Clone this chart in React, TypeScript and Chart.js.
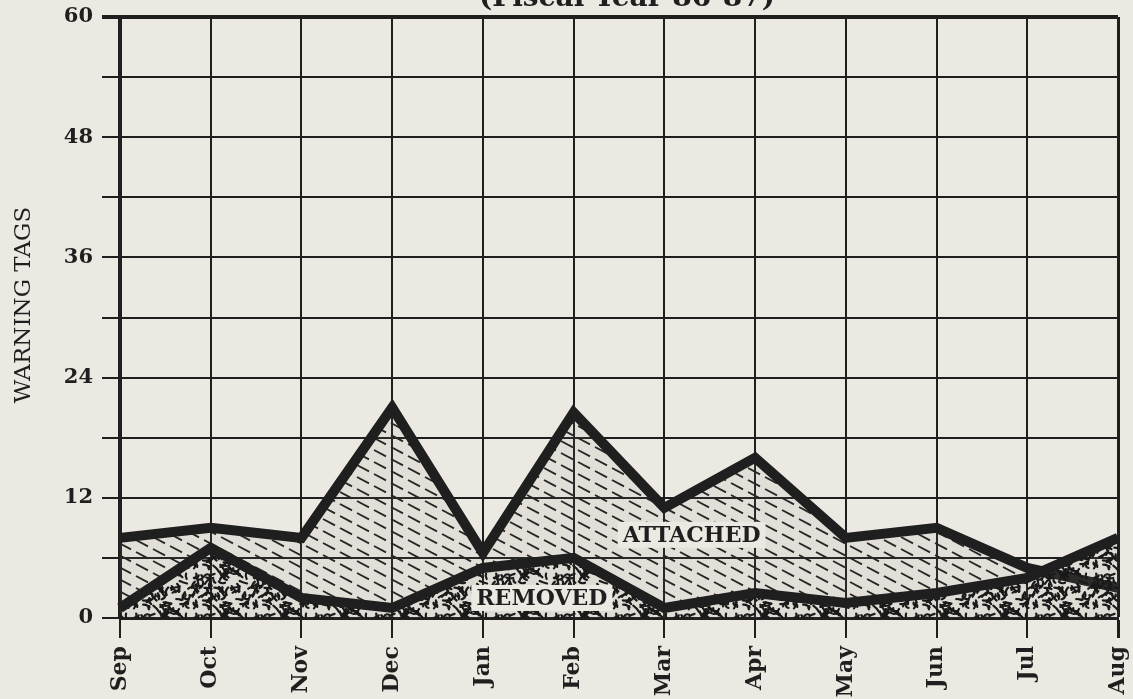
import { useEffect, useRef } from "react";
import { Chart, registerables } from "chart.js";
Chart.register(...registerables);

const months = ["Sep", "Oct", "Nov", "Dec", "Jan", "Feb", "Mar", "Apr", "May", "Jun", "Jul", "Aug"];
const attached = [8, 9, 8, 21, 6.5, 20.5, 11, 16, 8, 9, 5, 3];
const removed = [1, 7, 2, 1, 5, 6, 1, 2.5, 1.5, 2.5, 4, 8];
const labeledTicks = [0, 12, 24, 36, 48, 60];
const chartTitle = "(Fiscal Year 86-87)";
const yTitle = "WARNING TAGS";
const attachedLabel = "ATTACHED";
const removedLabel = "REMOVED";

const PAPER = "#ebe9e2";
const INK = "#1f1f1f";
const FONT = "'DejaVu Serif', 'Liberation Serif', serif";

function makeHatch(): HTMLCanvasElement {
  const W = 68, H = 12;
  const c = document.createElement("canvas");
  c.width = W; c.height = H;
  const g = c.getContext("2d")!;
  g.fillStyle = "rgba(140,135,125,0.10)";
  g.fillRect(0, 0, W, H);
  g.strokeStyle = "#262626";
  g.lineWidth = 1.8;
  for (let m = -2; m <= 5; m++) {
    for (let n = -5; n <= 5; n++) {
      const x = m * 17, y = m * 9 + n * 12;
      g.beginPath();
      g.moveTo(x, y);
      g.lineTo(x + 12, y + 6.4);
      g.stroke();
    }
  }
  return c;
}

function makeStipple(): HTMLCanvasElement {
  const W = 60, H = 40;
  const c = document.createElement("canvas");
  c.width = W; c.height = H;
  const g = c.getContext("2d")!;
  g.fillStyle = "rgba(140,135,125,0.12)";
  g.fillRect(0, 0, W, H);
  let s = 12345;
  const rnd = () => { s = (s * 1103515245 + 12345) % 2147483648; return s / 2147483648; };
  g.strokeStyle = "#1a1a1a";
  g.lineWidth = 2.2;
  g.lineCap = "round";
  for (let i = 0; i < 85; i++) {
    const x = rnd() * W, y = rnd() * H;
    const a = rnd() * Math.PI * 2;
    const len = 3 + rnd() * 6;
    const bend = (rnd() - 0.5) * 6;
    for (const ox of [-W, 0, W]) {
      for (const oy of [-H, 0, H]) {
        const x0 = x + ox, y0 = y + oy;
        const x1 = x0 + Math.cos(a) * len, y1 = y0 + Math.sin(a) * len;
        const mx = (x0 + x1) / 2 - Math.sin(a) * bend, my = (y0 + y1) / 2 + Math.cos(a) * bend;
        g.beginPath();
        g.moveTo(x0, y0);
        g.quadraticCurveTo(mx, my, x1, y1);
        g.stroke();
      }
    }
  }
  return c;
}

const paperPlugin = {
  id: "paper",
  beforeDraw(chart: any) {
    const { ctx, width, height } = chart;
    ctx.save();
    ctx.fillStyle = PAPER;
    ctx.fillRect(0, 0, width, height);
    ctx.restore();
  },
};

function boxedText(ctx: CanvasRenderingContext2D, text: string, x: number, y: number) {
  const w = ctx.measureText(text).width;
  ctx.fillStyle = PAPER;
  ctx.fillRect(x - w / 2 - 5, y - 13, w + 10, 26);
  ctx.fillStyle = INK;
  ctx.fillText(text, x, y + 1);
}

const textPlugin = {
  id: "texts",
  afterDatasetsDraw(chart: any) {
    const { ctx, chartArea, scales } = chart;
    ctx.save();
    ctx.fillStyle = INK;
    ctx.textAlign = "center";
    ctx.textBaseline = "alphabetic";
    ctx.font = `bold 28px ${FONT}`;
    ctx.fillText(chartTitle, (chartArea.left + chartArea.right) / 2 + 8, 6);

    ctx.save();
    ctx.translate(24, 305);
    ctx.rotate(-Math.PI / 2);
    ctx.textBaseline = "middle";
    ctx.font = `23px ${FONT}`;
    ctx.fillText(yTitle, 0, 0);
    ctx.restore();

    ctx.textBaseline = "middle";
    ctx.font = `bold 22px ${FONT}`;
    boxedText(ctx, attachedLabel, scales.x.getPixelForValue(6.3), scales.y.getPixelForValue(8.3));
    boxedText(ctx, removedLabel, scales.x.getPixelForValue(4.65), scales.y.getPixelForValue(2.0));
    ctx.restore();
  },
};

export default function App() {
  const ref = useRef<HTMLCanvasElement | null>(null);
  useEffect(() => {
    document.body.style.margin = "0";
    document.body.style.background = PAPER;
    const canvas = ref.current!;
    const ctx = canvas.getContext("2d")!;
    const hatch = ctx.createPattern(makeHatch(), "repeat")!;
    const stipple = ctx.createPattern(makeStipple(), "repeat")!;
    const chart = new Chart(canvas, {
      type: "line",
      data: {
        labels: months,
        datasets: [
          {
            label: removedLabel,
            data: removed,
            borderColor: INK,
            borderWidth: 10,
            pointRadius: 0,
            tension: 0,
            fill: "origin",
            backgroundColor: stipple as any,
          },
          {
            label: attachedLabel,
            data: attached,
            borderColor: INK,
            borderWidth: 10,
            pointRadius: 0,
            tension: 0,
            fill: { target: "-1", above: hatch as any, below: "rgba(0,0,0,0)" } as any,
            backgroundColor: hatch as any,
          },
        ],
      },
      options: {
        responsive: false,
        animation: false,
        layout: { padding: { top: 17, right: 15, left: 0, bottom: 0 } },
        plugins: {
          legend: { display: false },
          tooltip: { enabled: false },
          title: { display: false },
        },
        scales: {
          x: {
            afterFit: (s: any) => { s.height = 81; s.paddingLeft = 0; s.paddingRight = 0; },
            grid: {
              color: INK,
              lineWidth: (c: any) => (c.index === months.length - 1 ? 3 : 2),
              tickLength: 20,
              drawTicks: true,
            },
            border: { color: INK, width: 3 },
            ticks: {
              color: INK,
              font: { family: FONT, size: 22, weight: "bold" },
              minRotation: 90,
              maxRotation: 90,
              padding: 8,
              autoSkip: false,
            },
          },
          y: {
            min: 0,
            max: 60,
            afterFit: (s: any) => { s.width = 120; s.paddingTop = 0; s.paddingBottom = 0; },
            grid: {
              color: INK,
              lineWidth: (c: any) => (c.tick && c.tick.value === 60 ? 4 : 2),
              tickLength: 18,
            },
            border: { color: INK, width: 4 },
            ticks: {
              stepSize: 6,
              color: INK,
              padding: 9,
              font: { family: FONT, size: 21, weight: "bold" },
              callback: (v: any) => (labeledTicks.includes(Number(v)) ? String(v) : ""),
            },
          },
        },
      },
      plugins: [paperPlugin, textPlugin],
    });
    return () => chart.destroy();
  }, []);
  return (
    <div style={{ position: "fixed", left: 0, top: 0, width: 1133, height: 699 }}>
      <canvas ref={ref} width={1133} height={699} style={{ display: "block" }} />
    </div>
  );
}
